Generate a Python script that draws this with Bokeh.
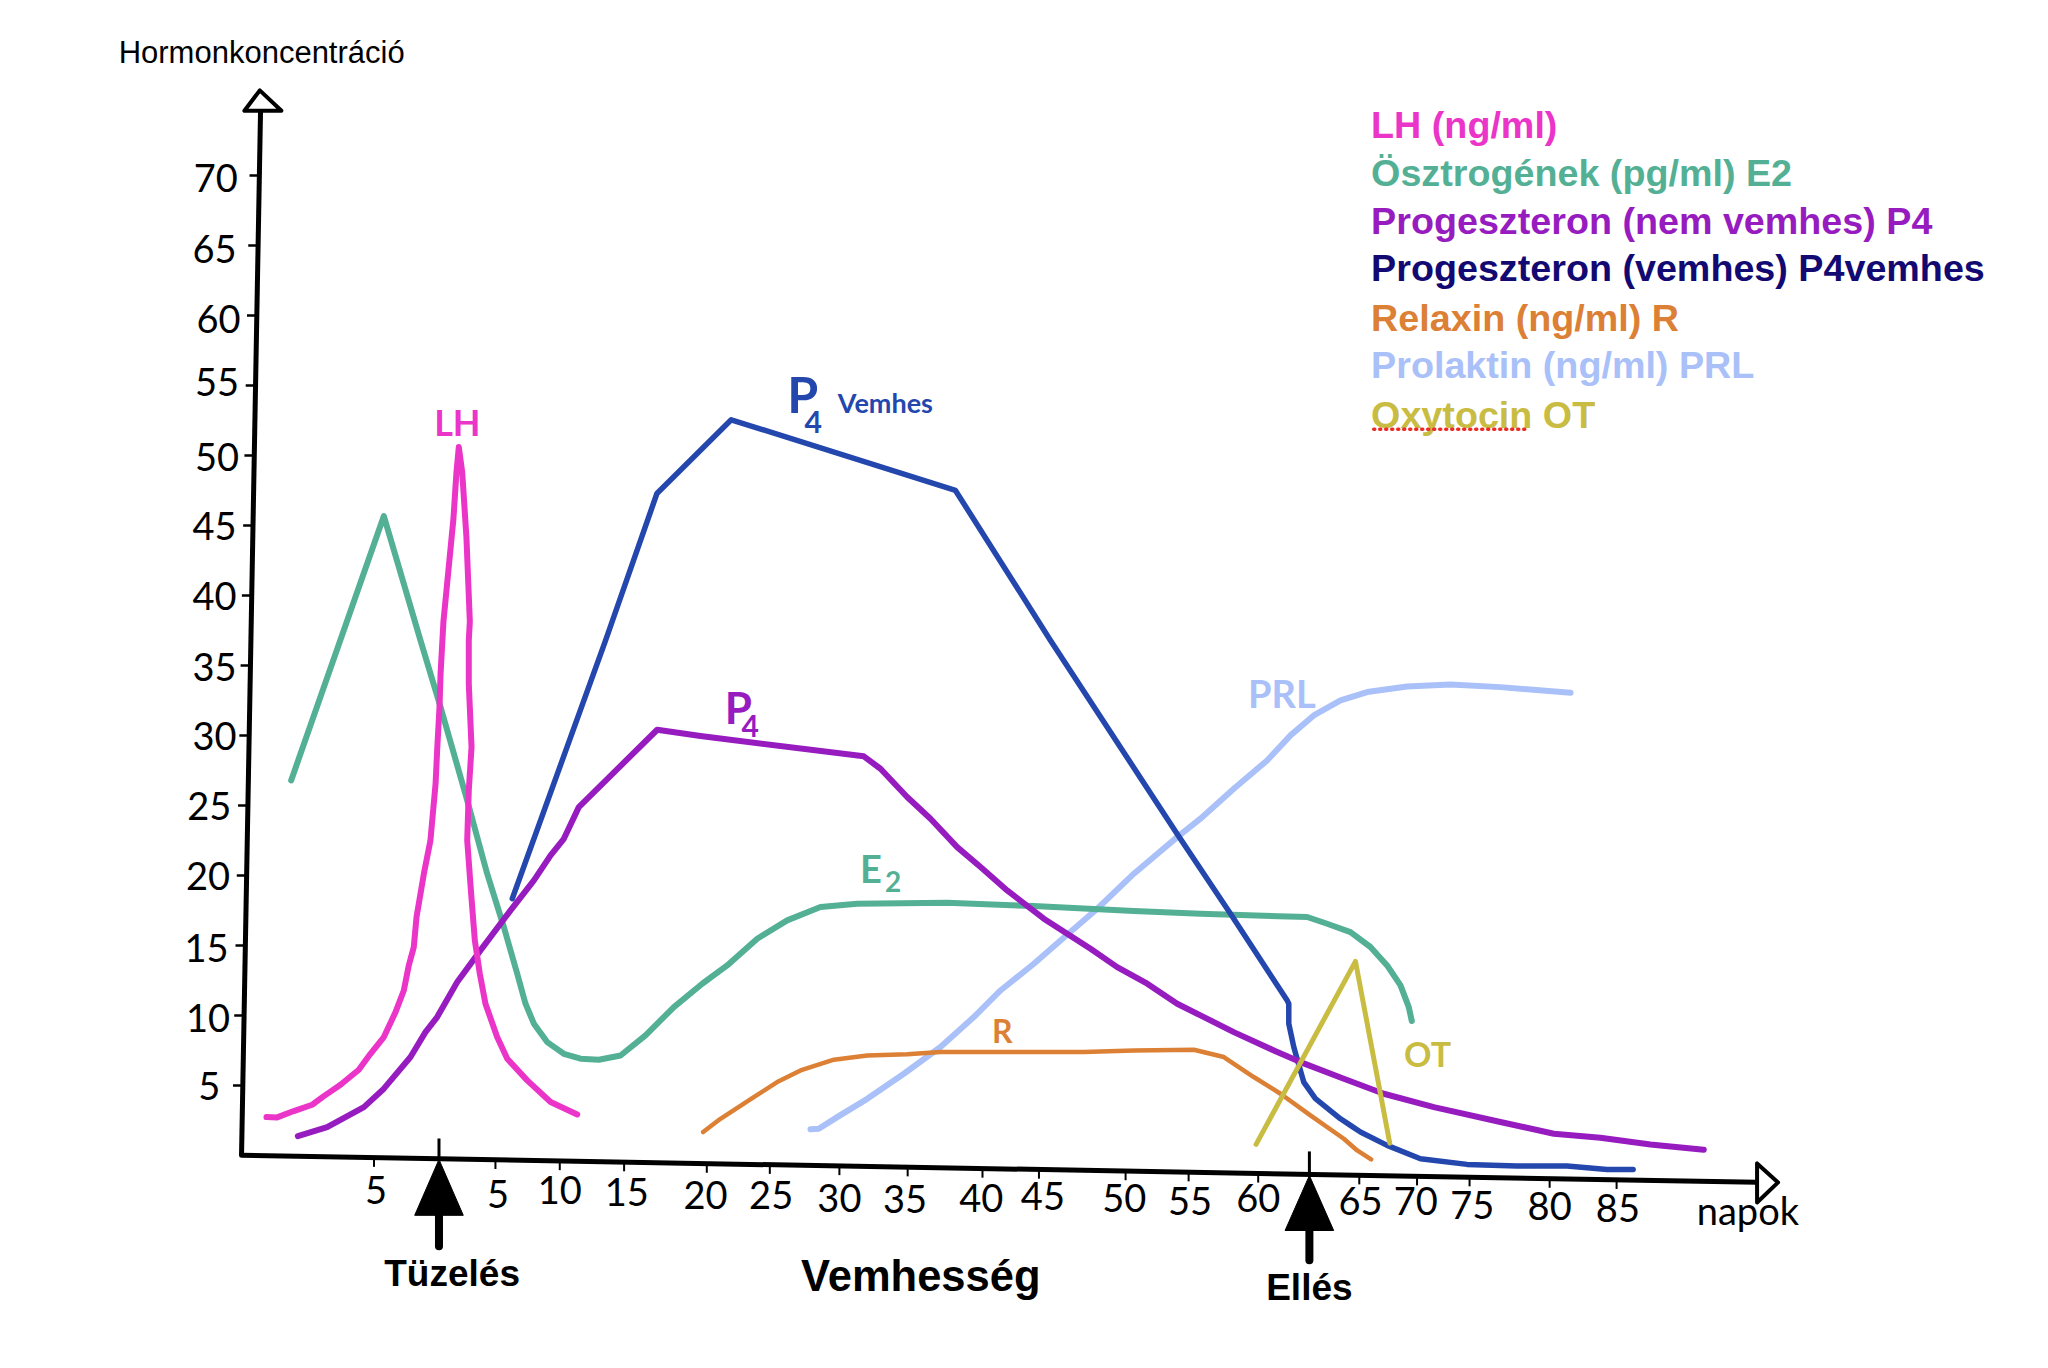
from bokeh.core.properties import value
from bokeh.embed import file_html
from bokeh.models import Range1d
from bokeh.plotting import figure
from bokeh.resources import INLINE

# hormon gorbek (x: nap a rajz vonalan, y: koncentracio)
lh_x = [1.76, 2.57, 3.84, 5.24, 6.13, 7.4, 8.79, 9.68, 10.7, 11.59, 12.22, 12.6, 12.98, 13.19, 13.75, 14.25, 14.64, 14.76,
        14.94, 15.02, 15.24, 16.0, 16.23, 16.41, 16.67, 16.99, 17.25, 17.17, 17.17, 17.38, 17.17, 17.05, 17.35, 17.63,
        18.01, 18.44, 19.33, 20.1, 21.62, 23.4, 25.43]
lh_y = [3.08, 3.06, 3.51, 3.96, 4.57, 5.38, 6.45, 7.58, 8.77, 10.54, 12.08, 13.86, 15.16, 17.3, 20.38, 22.75, 26.77, 29.14,
        32.22, 34.59, 38.3, 45.6, 48.9, 50.7, 48.9, 44.3, 38.3, 36.96, 33.88, 29.38, 26.3, 22.75, 18.95, 15.64,
        13.27, 11.14, 8.77, 7.23, 5.69, 4.15, 3.27]
e2_x = [3.64, 10.7, 13.49, 15.02, 17.05, 18.57, 19.84, 20.86, 21.49, 22.13, 23.14, 24.41, 25.68, 27.08, 28.73, 30.63, 32.79,
        34.95, 36.85, 39.14, 41.42, 43.96, 46.75, 53.61, 60.21, 67.83, 72.9, 78.87, 81.03, 82.55, 84.33, 85.85, 87.12,
        88.14, 88.77, 89.0]
e2_y = [27.01, 45.8, 36.96, 32.22, 25.59, 20.38, 16.59, 13.27, 11.14, 9.72, 8.41, 7.58, 7.23, 7.16, 7.46, 8.89, 10.9,
        12.56, 13.86, 15.76, 17.06, 18.01, 18.24, 18.31, 18.08, 17.72, 17.53, 17.35, 17.3, 16.82, 16.23, 15.17, 13.86,
        12.44, 10.9, 9.91]
p4_x = [4.15, 6.38, 9.18, 10.7, 12.73, 13.87, 14.76, 16.29, 18.06, 20.35, 22.13, 23.4, 24.41, 25.55, 31.52, 34.82, 47.26,
        48.53, 50.56, 52.34, 54.37, 56.15, 58.18, 60.97, 64.53, 66.56, 68.85, 71.13, 72.9, 75.44, 78.49, 80.52, 83.82,
        86.87, 90.68, 95.75, 99.82, 103.37, 107.18, 111.24]
p4_y = [1.73, 2.37, 3.79, 5.1, 7.35, 9.12, 10.19, 12.68, 14.93, 17.77, 19.9, 21.68, 22.86, 25.11, 30.61, 30.16, 28.72,
        27.84, 25.83, 24.29, 22.27, 20.85, 19.19, 17.18, 15.05, 13.74, 12.56, 11.14, 10.31, 9.12, 7.82, 6.99, 5.81,
        4.74, 3.79, 2.73, 1.9, 1.61, 1.14, 0.76]
p4v_x = [20.48, 27.59, 31.5, 37.16, 54.24, 61.48, 71.13, 75.19, 79.5, 79.63, 79.63, 80.01, 80.44, 80.77, 81.66, 83.57, 84.33,
         85.09, 87.12, 89.66, 93.21, 97.02, 100.83, 103.88, 105.86]
p4v_y = [18.6, 36.96, 47.4, 52.64, 47.62, 36.96, 23.2, 17.53, 11.38, 11.14, 9.72, 8.06, 6.64, 5.57, 4.39, 2.96, 2.49,
         2.02, 1.07, 0.12, -0.28, -0.4, -0.4, -0.64, -0.64]
r_x = [35.02, 36.34, 38.88, 40.66, 42.44, 44.98, 47.52, 50.56, 53.1, 57.67, 64.02, 67.83, 72.4, 74.68, 76.96, 79.0, 81.28,
       83.82, 84.84, 85.9]
r_y = [2.02, 2.96, 4.5, 5.57, 6.4, 7.16, 7.46, 7.54, 7.7, 7.7, 7.7, 7.82, 7.87, 7.35, 5.93, 4.74, 3.2,
       1.54, 0.71, 0.07]
prl_x = [43.2, 43.83, 45.23, 47.52, 50.31, 53.1, 55.64, 57.67, 60.21, 62.24, 65.04, 67.83, 71.13, 72.9, 75.44, 77.98, 79.76,
         81.53, 83.57, 85.6, 88.64, 91.95, 95.75, 101.09]
prl_y = [2.21, 2.25, 3.08, 4.38, 6.16, 8.06, 10.19, 12.08, 13.98, 15.64, 17.89, 20.38, 22.98, 24.29, 26.42, 28.43, 30.21,
         31.63, 32.7, 33.29, 33.69, 33.83, 33.64, 33.24]
ot_x = [77.14, 84.71, 87.32]
ot_y = [1.14, 14.15, 1.23]

# tengelyek feliratai
y_tick_labels = ["70", "65", "60", "55", "50", "45", "40", "35", "30", "25", "20", "15", "10", "5"]
y_tick_values = [70, 65, 60, 55, 50, 45, 40, 35, 30, 25, 20, 15, 10, 5]
x_tick_labels = ["5", "5", "10", "15", "20", "25", "30", "35", "40", "45", "50", "55", "60", "65", "70", "75", "80", "85"]
x_tick_pos = [9.95, 19.2, 24.1, 29.0, 35.3, 40.1, 45.4, 50.6, 56.3, 60.6, 67.2, 72.0, 77.3, 85.0, 89.4, 93.4, 99.5, 104.6]
event_names = ["Tüzelés", "Ellés"]
event_x = [14.9, 81.2]

legend_texts = ["LH (ng/ml)", "Ösztrogének (pg/ml) E2", "Progeszteron (nem vemhes) P4",
                "Progeszteron (vemhes) P4vemhes", "Relaxin (ng/ml) R", "Prolaktin (ng/ml) PRL", "Oxytocin OT"]

colors = dict(lh="#EB34C8", e2="#54B094", p4="#971CC0", p4v="#2447AE", r="#DC8035", prl="#A9C0F8", ot="#C9BC42")
legend_colors = [colors["lh"], colors["e2"], colors["p4"], "#120A72", colors["r"], colors["prl"], colors["ot"]]

# a kezzel rajzolt elemek helye
legend_y = [73.6, 70.2, 66.8, 63.4, 59.9, 56.5, 53.0]
y_label_x = [-2.1, -2.2, -1.9, -2.0, -2.0, -2.2, -2.2, -2.2, -2.2, -2.6, -2.7, -2.8, -2.7, -2.6]
y_label_y = [69.8, 64.8, 59.8, 55.3, 50.0, 45.1, 40.1, 35.1, 30.2, 25.2, 20.2, 15.1, 10.1, 5.3]
x_label_x = [10.1, 19.4, 24.1, 29.2, 35.2, 40.2, 45.4, 50.4, 56.2, 60.9, 67.1, 72.1, 77.3, 85.1, 89.3, 93.6, 99.5, 104.7]
x_label_y = [-2.1, -2.35, -2.1, -2.25, -2.45, -2.45, -2.65, -2.75, -2.65, -2.55, -2.65, -2.85, -2.65, -2.85, -2.85, -3.15, -3.25, -3.35]


def y_axis_x(y):
    return -0.14 + 0.0195 * (y - 0.36)


def x_axis_y(x):
    return 0.36 - 0.0166 * x


p = figure(width=2032, height=1352, output_backend="svg", toolbar_location=None,
           x_range=Range1d(-18.5, 136.28), y_range=Range1d(-13.65, 82.44), min_border=0)
p.axis.visible = False
p.grid.visible = False
p.outline_line_color = None
p.background_fill_color = "white"

# gorbek
for xs, ys, c, w in [(prl_x, prl_y, "prl", 6), (r_x, r_y, "r", 4.5), (e2_x, e2_y, "e2", 6), (p4v_x, p4v_y, "p4v", 5.5),
                     (p4_x, p4_y, "p4", 6), (lh_x, lh_y, "lh", 6), (ot_x, ot_y, "ot", 5)]:
    p.line(xs, ys, line_color=colors[c], line_width=w, line_cap="round", line_join="round")

# tengelyek
p.line([y_axis_x(0.36), y_axis_x(74.6)], [0.36, 74.6], line_color="black", line_width=5)
p.line([-0.14, 115.3], [x_axis_y(-0.14), x_axis_y(115.3)], line_color="black", line_width=5, line_cap="round")
p.patch([1.25, 0.08, 2.9], [76.05, 74.6, 74.6], fill_color="white", line_color="black", line_width=4, line_join="round")
p.patch([116.9, 115.3, 115.3], [-1.56, -0.21, -2.99], fill_color="white", line_color="black", line_width=4, line_join="round")

tick_y = [0.36 + 0.995 * v for v in y_tick_values]
p.segment([y_axis_x(v) - 0.75 for v in tick_y], tick_y, [y_axis_x(v) for v in tick_y], tick_y, line_color="black", line_width=2.5)
p.segment(x_tick_pos, [x_axis_y(v) for v in x_tick_pos], x_tick_pos, [x_axis_y(v) - 0.65 for v in x_tick_pos],
          line_color="black", line_width=2)

hand = value("Lato")
helv = value("Liberation Sans")
p.text(y_label_x, y_label_y, text=y_tick_labels, text_font=hand, text_font_size="38px", text_align="center",
       text_baseline="middle", text_color="black")
p.text(x_label_x, x_label_y, text=x_tick_labels, text_font=hand, text_font_size="38px", text_align="center",
       text_baseline="middle", text_color="black")
p.text([114.6], [-3.55], text=["napok"], text_font=hand, text_font_size="38px", text_align="center",
       text_baseline="middle", text_color="black")

# tuzeles, elles nyilak
for ex, tip, base, bottom, stub in zip(event_x, [0.07, -1.07], [-3.9, -4.98], [-6.1, -7.1], [1.56, 0.64]):
    p.patch([ex, ex - 1.85, ex + 1.85], [tip, base, base], fill_color="black", line_color="black", line_width=1)
    p.line([ex, ex], [base, bottom], line_color="black", line_width=8, line_cap="round")
    p.line([ex, ex], [tip, stub], line_color="black", line_width=3)

p.text([15.9, 81.2], [-8.0, -9.0], text=event_names, text_font=helv, text_font_style="bold",
       text_font_size="37px", text_align="center", text_baseline="alphabetic", text_color="black")
p.text([51.6], [-8.2], text=["Vemhesség"], text_font=helv, text_font_style="bold",
       text_font_size="43.5px", text_align="center", text_baseline="alphabetic", text_color="black")
p.text([-9.5], [78.75], text=["Hormonkoncentráció"], text_font=helv, text_font_size="31px",
       text_align="left", text_baseline="alphabetic", text_color="black")

# jelmagyarazat
p.text([85.9] * len(legend_texts), legend_y, text=legend_texts, text_color=legend_colors, text_font=helv,
       text_font_style="bold", text_font_size="37.7px", text_align="left", text_baseline="alphabetic")
p.line([86.1, 97.6], [51.96, 51.96], line_color="#EE2A24", line_width=3.5, line_dash=[1, 5], line_cap="round")

# gorbek melletti kezzel irt jelek
curve_labels = ["LH", "P", "4", "Vemhes", "P", "4", "E", "2", "R", "PRL", "OT"]
curve_label_x = [16.3, 42.6, 43.4, 48.9, 37.7, 38.6, 47.8, 49.5, 57.8, 79.1, 90.2]
curve_label_y = [52.5, 54.5, 52.5, 53.9, 32.2, 30.9, 20.8, 19.8, 9.24, 33.2, 7.6]
curve_label_colors = [colors["lh"], colors["p4v"], colors["p4v"], colors["p4v"], colors["p4"], colors["p4"], colors["e2"],
                      colors["e2"], colors["r"], colors["prl"], colors["ot"]]
curve_label_sizes = ["36px", "50px", "30px", "27px", "44px", "30px", "38px", "28px", "32px", "38px", "34px"]
for cx, cy, ct, cc, cs in zip(curve_label_x, curve_label_y, curve_labels, curve_label_colors, curve_label_sizes):
    p.text([cx], [cy], text=[ct], text_color=cc, text_font=hand, text_font_style="bold", text_font_size=value(cs),
           text_align="center", text_baseline="middle")

open("out.html", "w").write(file_html(p, INLINE))
